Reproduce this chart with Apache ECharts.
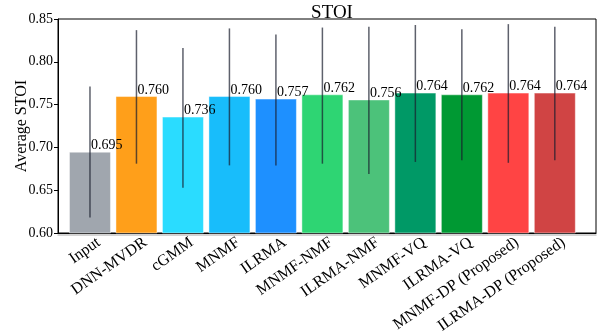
<!DOCTYPE html>
<html><head><meta charset="utf-8">
<script src="https://cdn.jsdelivr.net/npm/echarts@6/dist/echarts.min.js"></script>
<style>html,body{margin:0;padding:0;background:#fff}#c{width:615px;height:331px}</style>
</head><body><div id="c"></div>
<script>
const categories = ['Input','DNN-MVDR','cGMM','MNMF','ILRMA','MNMF-NMF','ILRMA-NMF','MNMF-VQ','ILRMA-VQ','MNMF-DP (Proposed)','ILRMA-DP (Proposed)'];
const means = [0.695,0.760,0.736,0.760,0.757,0.762,0.756,0.764,0.762,0.764,0.764];
const errLow = [0.618,0.681,0.653,0.679,0.679,0.681,0.669,0.683,0.685,0.682,0.685];
const errHigh = [0.771,0.837,0.816,0.839,0.832,0.840,0.841,0.843,0.838,0.844,0.841];
const colors = ['#a0a6ae','#ff9f1a','#2adcff','#18bdfb','#1e90ff','#2ed573','#4cc27a','#009966','#009933','#ff4444','#d04444'];
const yTicks = [0.60,0.65,0.70,0.75,0.80,0.85];

const font = '"Liberation Serif", "DejaVu Serif", serif';
const labelShift = 0.19; // rotated labels are anchored slightly right of bar centres
const chart = echarts.init(document.getElementById('c'));
chart.setOption({
  animation: false,
  title: {text: 'STOI', left: 327, textAlign: 'center', top: -1,
    textStyle: {fontFamily: font, fontSize: 19, fontWeight: 'normal', color: '#000'}},
  grid: {left: 58, right: 19, top: 19, bottom: 98, outerBoundsMode: 'none', containLabel: false,
    show: true, borderColor: '#000', borderWidth: 1, backgroundColor: 'transparent'},
  xAxis: {type: 'value', min: -0.688, max: 10.886,
    axisLine: {show: true, onZero: false, lineStyle: {color: '#000', width: 1.2, shadowColor: 'rgba(0,0,0,0.35)', shadowOffsetY: 1.5}},
    splitLine: {show: false},
    axisTick: {show: false},
    axisLabel: {customValues: categories.map((c, i) => i + labelShift), formatter: v => categories[Math.round(v)],
      rotate: 35, margin: 8, fontFamily: font, fontSize: 16, color: '#000'}},
  yAxis: {type: 'value', min: yTicks[0], max: yTicks[yTicks.length - 1], interval: 0.05,
    name: 'Average STOI', nameLocation: 'middle', nameGap: 28, nameMoveOverlap: false,
    nameTextStyle: {fontFamily: font, fontSize: 16, color: '#000'},
    axisLine: {show: true, onZero: false, lineStyle: {color: '#000'}},
    axisTick: {show: true, length: 4, lineStyle: {color: '#000'}},
    splitLine: {show: false},
    axisLabel: {formatter: v => v.toFixed(2), fontFamily: font, fontSize: 14, color: '#000', margin: 5}},
  series: [
    {type: 'bar', barWidth: 42,
      data: means.map((v, i) => ({value: [i, v], itemStyle: {color: colors[i], borderColor: 'rgba(255,255,255,0.45)', borderWidth: 1}})),
      label: {show: false}
    },
    {type: 'custom', z: 5,
      data: means.map((v, i) => [i, errLow[i], errHigh[i]]),
      renderItem: (params, api) => {
        const p1 = api.coord([api.value(0), api.value(1)]);
        const p2 = api.coord([api.value(0), api.value(2)]);
        return {type: 'line', shape: {x1: p1[0], y1: p1[1], x2: p2[0], y2: p2[1]},
          style: {stroke: 'rgba(25,30,45,0.7)', lineWidth: 1.5}};
      }},
    {type: 'custom', z: 6,
      data: means.map((v, i) => [i, v]),
      renderItem: (params, api) => {
        const p = api.coord([api.value(0), api.value(1)]);
        return {type: 'text', x: p[0] + 1, y: p[1] + 1,
          style: {text: api.value(1).toFixed(3), fill: '#000', font: '14px ' + font, textAlign: 'left', textVerticalAlign: 'bottom'}};
      }}
  ]
});
</script></body></html>
